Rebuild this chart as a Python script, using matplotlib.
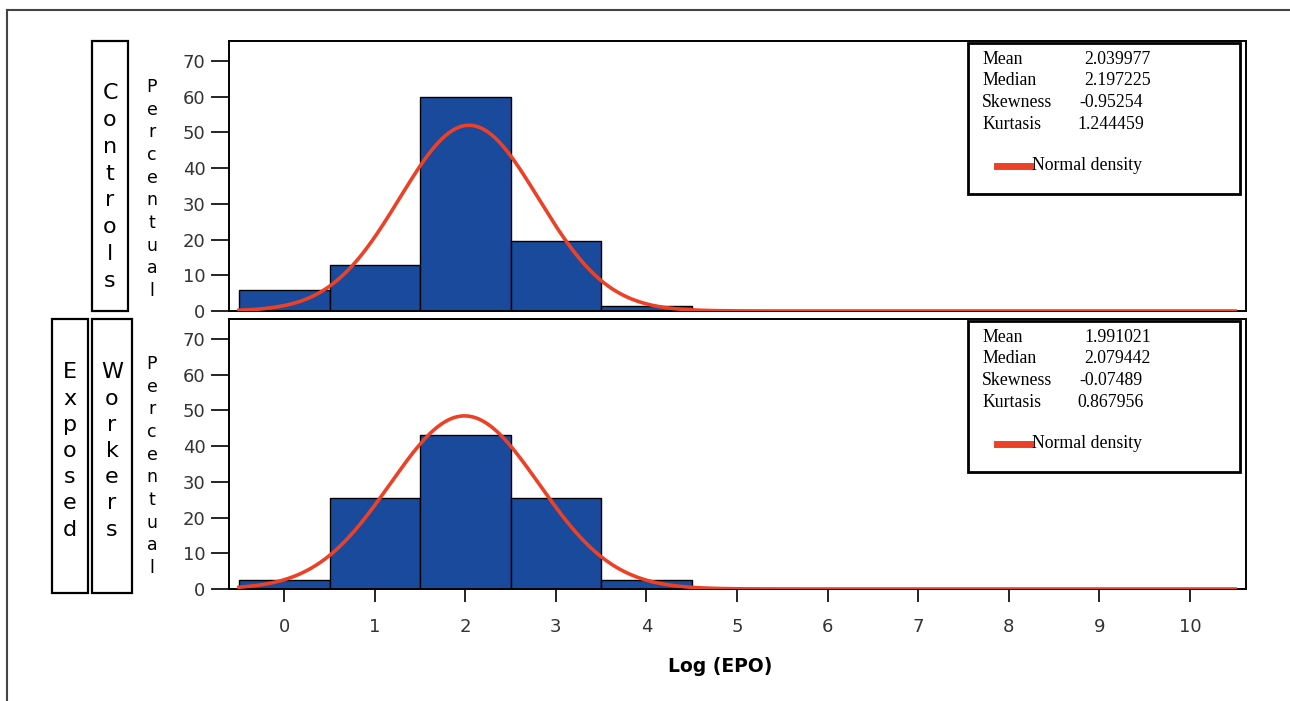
import numpy as np
import matplotlib
matplotlib.use("Agg")
import matplotlib.pyplot as plt
from matplotlib.patches import Rectangle
from matplotlib.lines import Line2D

# histogram data (percent per log(EPO) class)
bins = [0, 1, 2, 3, 4]
controls_pct = [6.0, 13.0, 60.0, 19.5, 1.3]
workers_pct = [2.5, 25.5, 43.0, 25.5, 2.5]

# summary statistics shown in the boxes
stat_names = ["Mean", "Median", "Skewness", "Kurtasis"]
controls_stats = ["2.039977", "2.197225", "-0.95254", "1.244459"]
workers_stats = ["1.991021", "2.079442", "-0.07489", "0.867956"]

# fitted normal curves (mean, sd)
controls_fit = (2.039977, 0.767)
workers_fit = (1.991021, 0.823)

xticks = list(range(0, 11))
yticks = list(range(0, 80, 10))

W, H = 1290, 701
BLUE = "#1a4a9c"
RED = "#ec4127"

fig = plt.figure(figsize=(W / 100, H / 100), dpi=100)


def fx(px):
    return px / W


def fy(py):
    return 1 - py / H


def panel(top_px, pct, stats, fit, show_x):
    ax = fig.add_axes([fx(229), fy(top_px + 270), fx(1246) - fx(229), fy(top_px) - fy(top_px + 270)])
    ax.bar(bins, pct, width=1.0, color=BLUE, edgecolor="black", linewidth=1.0, zorder=2)
    xs = np.linspace(-0.5, 10.5, 600)
    mu, sd = fit
    dens = 100 / (np.sqrt(2 * np.pi) * sd) * np.exp(-(xs - mu) ** 2 / (2 * sd ** 2))
    ax.plot(xs, dens, color=RED, lw=2.6, zorder=3)
    ax.set_xlim(-0.61, 10.62)
    ax.set_ylim(0, 75.6)
    ax.set_yticks(yticks)
    ax.set_yticklabels([str(v) for v in yticks], fontsize=13, color="#333333")
    ax.tick_params(axis="y", length=13, width=1.2, pad=4)
    if show_x:
        ax.set_xticks(xticks)
        ax.set_xticklabels([str(v) for v in xticks], fontsize=13, color="#333333")
        ax.tick_params(axis="x", length=9, width=1.2, pad=12)
    else:
        ax.set_xticks([])
    for s in ax.spines.values():
        s.set_linewidth(1.4)
    # statistics box
    ax.add_patch(Rectangle((0.7267, 0.432), 0.2674, 0.562, transform=ax.transAxes,
                           fill=True, facecolor="white", edgecolor="black", lw=2, zorder=5))
    val_x = [1084, 1084, 1079, 1077]
    for i, (name, val) in enumerate(zip(stat_names, stats)):
        y = fy(top_px + 18 + 21.8 * i)
        fig.text(fx(982), y, name, family="Liberation Serif", fontsize=12.8, va="center", zorder=6)
        fig.text(fx(val_x[i]), y, val, family="Liberation Serif", fontsize=12.8, va="center", zorder=6)
    ly = fy(top_px + 125)
    fig.add_artist(Line2D([fx(997), fx(1031)], [ly, ly], color=RED, lw=5, zorder=6))
    fig.text(fx(1032), ly, "Normal density", family="Liberation Serif", fontsize=12.8, va="center", zorder=6)
    return ax


panel(41, controls_pct, controls_stats, controls_fit, False)
panel(319, workers_pct, workers_stats, workers_fit, True)


# left side labels
def box(x0, y0, x1, y1):
    fig.add_artist(Rectangle((fx(x0), fy(y1)), fx(x1) - fx(x0), fy(y0) - fy(y1),
                             fill=False, edgecolor="black", lw=1.6))


def stacked(xc, yc, word, size, spacing):
    fig.text(fx(xc), fy(yc), "\n".join(word), ha="center", va="center",
             fontsize=size, linespacing=spacing, family="DejaVu Sans")


box(92, 41, 128, 311)
stacked(110, 187, "Controls", 16, 1.42)
box(52, 319, 88, 593)
stacked(70, 451, "Exposed", 16, 1.39)
box(92, 319, 132, 593)
stacked(112, 451, "Workers", 16, 1.39)
stacked(152, 189, "Percentual", 12.5, 1.33)
stacked(152, 466, "Percentual", 12.5, 1.33)

fig.text(fx(720), fy(666), "Log (EPO)", ha="center", va="center", fontsize=13.5, fontweight="bold")

# outer frame
fig.add_artist(Line2D([fx(7), 1.0], [fy(10), fy(10)], color="#444444", lw=1.5))
fig.add_artist(Line2D([fx(7), fx(7)], [fy(10), 0.0], color="#444444", lw=1.5))

fig.savefig("out.png", dpi=100)
